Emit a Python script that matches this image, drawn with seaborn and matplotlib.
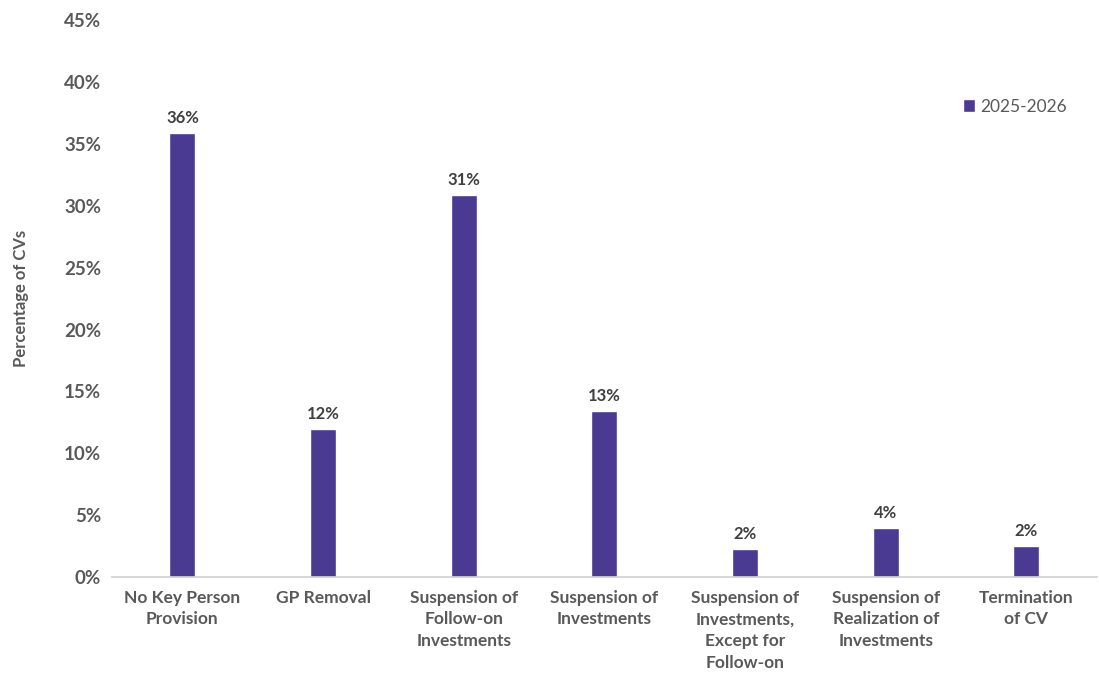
import matplotlib
matplotlib.use("Agg")
import matplotlib.pyplot as plt
from matplotlib.ticker import PercentFormatter
import seaborn as sns
import pandas as pd

categories = [
    "No Key Person\nProvision",
    "GP Removal",
    "Suspension of\nFollow-on\nInvestments",
    "Suspension of\nInvestments",
    "Suspension of\nInvestments,\nExcept for\nFollow-on",
    "Suspension of\nRealization of\nInvestments",
    "Termination\nof CV",
]
share_2025_2026 = [35.9, 12.0, 30.9, 13.4, 2.3, 4.0, 2.49]
series_name = "2025-2026"
y_ticks = [0, 5, 10, 15, 20, 25, 30, 35, 40, 45]

df = pd.DataFrame({"category": categories, "value": share_2025_2026, "series": series_name})

sns.set_theme(style="white")
plt.rcParams["font.family"] = ["Lato", "DejaVu Sans"]

bar_color = "#4B3A91"
text_gray = "#595959"

fig = plt.figure(figsize=(10.99, 6.75), dpi=100)
ax = fig.add_axes([0.102, 0.145, 0.896, 0.825])

sns.barplot(data=df, x="category", y="value", hue="series", palette=[bar_color],
            width=0.185, ax=ax, saturation=1)

for cont in ax.containers:
    ax.bar_label(cont, labels=[f"{v:.0f}%" for v in cont.datavalues], padding=5,
                 fontsize=12, fontweight="bold", color="#404040")

ax.set_ylim(0, 45)
ax.set_yticks(y_ticks)
ax.yaxis.set_major_formatter(PercentFormatter(decimals=0))
ax.set_xlim(-0.5, len(categories) - 0.5)

ax.set_xlabel("")
ax.set_ylabel("Percentage of CVs", fontsize=12, fontweight="bold", color=text_gray, labelpad=25)

ax.tick_params(axis="y", labelsize=13.5, labelcolor=text_gray, length=0, pad=8)
ax.tick_params(axis="x", labelsize=12.5, labelcolor=text_gray, length=0, pad=9)
for lbl in ax.get_yticklabels():
    lbl.set_fontweight("bold")
for lbl in ax.get_xticklabels():
    lbl.set_fontweight("bold")
    lbl.set_linespacing(1.45)

for side in ["top", "right", "left"]:
    ax.spines[side].set_visible(False)
ax.spines["bottom"].set_color("#D0D0D0")
ax.spines["bottom"].set_linewidth(1.2)

leg = ax.legend(loc="center left", bbox_to_anchor=(0.848, 0.845), frameon=False,
                fontsize=12.5, handlelength=0.7, handleheight=0.7, handletextpad=0.3)
for t in leg.get_texts():
    t.set_color(text_gray)

fig.savefig("out.png", dpi=100)
